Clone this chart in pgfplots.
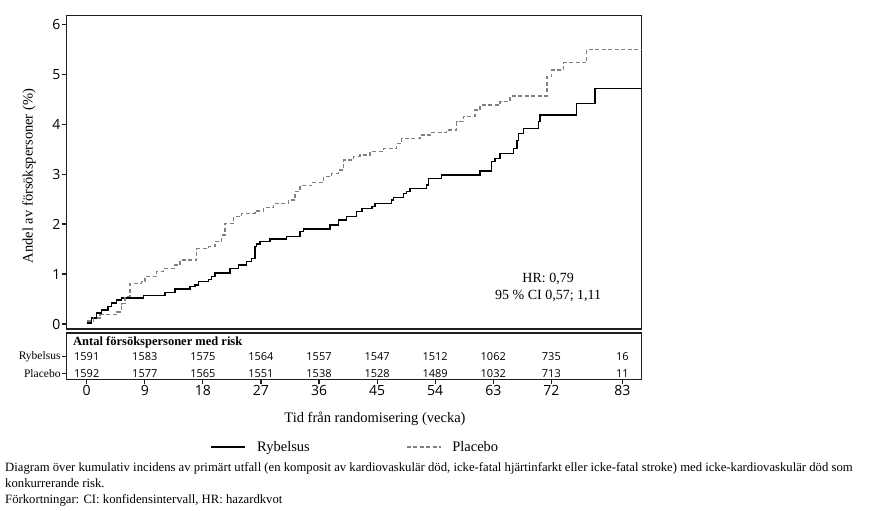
\documentclass[border=0pt]{standalone}
\usepackage{fontspec}
\setmainfont{Liberation Serif}
\newfontfamily\tksans{Open Sans}
\usepackage{pgfplots}
\usepackage{pgfplotstable}
\pgfplotsset{compat=1.18}
\definecolor{plac}{HTML}{808080}
\definecolor{frame}{HTML}{1E1E1E}

% cumulative incidence (%), step levels after each event
\pgfplotstableread{
x y
0 0.02
0.77 0.12
1.55 0.22
2.32 0.28
3.30 0.35
3.87 0.42
4.65 0.48
5.42 0.52
8.77 0.57
12.13 0.63
13.69 0.70
16.01 0.75
16.79 0.78
17.29 0.85
18.84 0.89
19.37 0.95
19.89 1.02
22.21 1.11
23.49 1.18
24.79 1.25
25.57 1.31
26.08 1.55
26.34 1.60
26.86 1.65
28.41 1.70
30.99 1.75
33.05 1.85
33.57 1.90
37.70 1.98
38.99 2.08
40.29 2.15
41.84 2.25
42.62 2.31
44.17 2.35
44.68 2.41
47.26 2.48
47.51 2.53
49.06 2.61
49.59 2.65
50.10 2.71
52.69 2.78
52.94 2.91
55.01 2.98
60.95 3.06
62.76 3.25
63.27 3.31
64.05 3.41
66.11 3.51
66.64 3.67
66.88 3.81
67.66 3.91
69.98 4.05
70.25 4.18
75.93 4.41
78.77 4.71
86.0 4.71
}\ryb

\pgfplotstableread{
x y
0 0.06
1.02 0.12
2.06 0.19
4.65 0.24
5.42 0.41
5.94 0.55
6.71 0.81
8.52 0.85
9.03 0.95
10.85 1.05
11.87 1.11
13.68 1.18
14.46 1.28
17.05 1.51
18.84 1.55
19.88 1.65
20.92 1.78
21.43 2.01
22.72 2.15
24.02 2.21
26.08 2.26
27.37 2.33
28.92 2.41
31.24 2.48
32.28 2.65
33.06 2.77
34.87 2.83
36.67 2.95
37.97 3.01
38.99 3.08
39.76 3.28
41.31 3.35
42.35 3.38
43.90 3.45
45.96 3.51
48.04 3.61
48.81 3.71
51.65 3.78
53.20 3.83
55.79 3.88
57.34 4.05
58.36 4.15
60.18 4.28
60.95 4.38
64.05 4.45
65.60 4.56
71.29 4.95
72.06 5.08
73.86 5.23
77.48 5.49
86.0 5.49
}\plc

\begin{document}
\begin{tikzpicture}[x=1pt,y=1pt]
\path[use as bounding box] (0,0) rectangle (875,-511);

\begin{axis}[
  at={(66.7pt,-15.7pt)}, anchor=north west,
  scale only axis, width=575pt, height=313.3pt,
  xmin=-3.1, xmax=86, ymin=-0.1, ymax=6.17,
  xtick=\empty, ytick={0,1,...,6},
  tick align=outside, tick pos=left,
  major tick length=5pt,
  axis line style={line width=1.5pt, frame},
  every tick/.style={line width=1.2pt, frame},
  /pgf/number format/assume math mode=true,
  yticklabel style={font=\tksans\fontsize{14}{14}\selectfont, inner sep=1pt},
  clip=false,
  legend style={at={(0.5005,-0.3766)}, anchor=center, draw=none, fill=none,
    font=\fontsize{14.5}{16}\selectfont, legend columns=2,
    nodes={inner sep=0pt},
    /tikz/every odd column/.append style={column sep=11pt},
    /tikz/every even column/.append style={column sep=96pt}},
  legend image code/.code={\draw[#1] (0pt,0pt) -- (34pt,0pt);},
]
\addplot[const plot, black, line width=1.5pt] table[x=x, y=y] {\ryb};
\addlegendentry{Rybelsus}
\addplot[const plot, plac, line width=1.5pt, dash pattern=on 4pt off 2.5pt] table[x=x, y=y] {\plc};
\addlegendentry{Placebo}
\node[align=center, font=\fontsize{14}{17}\selectfont] at (axis cs:71.5,0.73) {HR: 0,79\\95 \% CI 0,57; 1,11};
\end{axis}

\begin{axis}[
  at={(66.7pt,-333pt)}, anchor=north west,
  scale only axis, width=575pt, height=46.3pt,
  xmin=-3.1, xmax=86, ymin=0, ymax=46.3,
  xtick={0,9,18,27,36,45,54,63,72,83},
  ytick={6,22.6}, yticklabels={Placebo,Rybelsus},
  tick align=outside, tick pos=left,
  major tick length=5pt,
  axis line style={line width=1.5pt, frame},
  every tick/.style={line width=1.2pt, frame},
  /pgf/number format/assume math mode=true,
  xticklabel style={font=\tksans\fontsize{14}{14}\selectfont, inner sep=1pt},
  yticklabel style={font=\fontsize{11.5}{11.5}\selectfont, inner sep=1pt},
  clip=false,
]
\addplot[draw=none, mark=none,
  nodes near coords, point meta=explicit symbolic,
  every node near coord/.append style={anchor=center, inner sep=0pt, font=\tksans\fontsize{11}{11}\selectfont}]
  coordinates {
  (0,22.6)[1591] (9,22.6)[1583] (18,22.6)[1575] (27,22.6)[1564] (36,22.6)[1557]
  (45,22.6)[1547] (54,22.6)[1512] (63,22.6)[1062] (72,22.6)[735] (83,22.6)[16]
  (0,6)[1592] (9,6)[1577] (18,6)[1565] (27,6)[1551] (36,6)[1538]
  (45,6)[1528] (54,6)[1489] (63,6)[1032] (72,6)[713] (83,6)[11]
  };
\node[anchor=west, inner sep=0pt, font=\bfseries\fontsize{12.5}{12.5}\selectfont] at (axis cs:-2.12,36.6) {Antal försökspersoner med risk};
\end{axis}

\node[rotate=90, font=\fontsize{14.5}{14.5}\selectfont] at (29,-176) {Andel av försökspersoner (\%)};
\node[font=\fontsize{14.5}{14.5}\selectfont] at (375,-419) {Tid från randomisering (vecka)};

\begin{scope}[every node/.style={anchor=base west, inner sep=0pt, font=\fontsize{12.7}{12.7}\selectfont}]
\node at (5,-471) {Diagram över kumulativ incidens av primärt utfall (en komposit av kardiovaskulär död, icke-fatal hjärtinfarkt eller icke-fatal stroke) med icke-kardiovaskulär död som};
\node at (5,-487) {konkurrerande risk.};
\node at (5,-503) {Förkortningar: CI: konfidensintervall, HR: hazardkvot};
\end{scope}
\end{tikzpicture}
\end{document}
